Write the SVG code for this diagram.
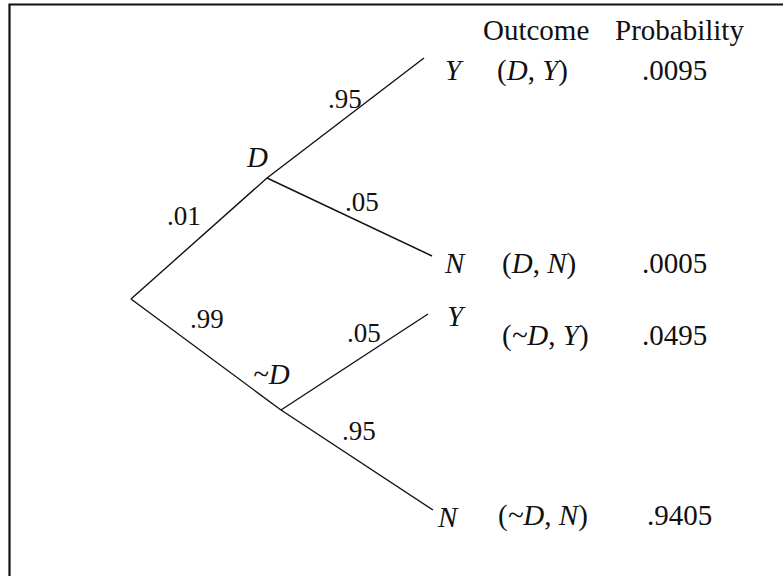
<svg xmlns="http://www.w3.org/2000/svg" width="783" height="576" viewBox="0 0 783 576">
<style>
.t{font-family:"Liberation Serif","Times New Roman",serif;font-size:29px;fill:#111}
.i{font-style:italic}
.p{font-family:"Liberation Serif","Times New Roman",serif;font-size:27px;fill:#111}
.e{stroke:#111;stroke-width:1.4;fill:none}
</style>
<rect width="783" height="576" fill="#fff"/>
<path d="M9.5,576 V4.5 H783" fill="none" stroke="#111" stroke-width="2.2"/>
<g id="connectors">
<line class="e" x1="131" y1="299" x2="267" y2="178"/>
<line class="e" x1="131" y1="299" x2="281" y2="410"/>
<line class="e" x1="267" y1="178" x2="424" y2="58"/>
<line class="e" x1="267" y1="178" x2="432" y2="256"/>
<line class="e" x1="281" y1="410" x2="428" y2="314"/>
<line class="e" x1="281" y1="410" x2="433" y2="510"/>
<text class="p" x="328" y="108">.95</text>
<text class="p" x="345" y="211">.05</text>
<text class="p" x="167" y="225">.01</text>
<text class="p" x="190" y="328">.99</text>
<text class="p" x="347" y="342">.05</text>
<text class="p" x="342" y="440">.95</text>
</g>
<g id="header">
<text class="t" x="483" y="40">Outcome</text>
<text class="t" x="615" y="40">Probability</text>
</g>
<g id="node-D"><text class="t i" x="247" y="167">D</text></g>
<g id="node-notD"><text class="t i" x="253" y="384">~D</text></g>
<g id="leaf-DY">
<text class="t i" x="445" y="80">Y</text>
<text class="t" x="497" y="80">(<tspan class="i">D</tspan>, <tspan class="i">Y</tspan>)</text>
<text class="t" x="642" y="80">.0095</text>
</g>
<g id="leaf-DN">
<text class="t i" x="445" y="273">N</text>
<text class="t" x="502" y="273">(<tspan class="i">D</tspan>, <tspan class="i">N</tspan>)</text>
<text class="t" x="642" y="273">.0005</text>
</g>
<g id="leaf-notDY">
<text class="t i" x="447" y="326">Y</text>
<text class="t" x="502" y="345">(<tspan class="i">~D</tspan>, <tspan class="i">Y</tspan>)</text>
<text class="t" x="642" y="345">.0495</text>
</g>
<g id="leaf-notDN">
<text class="t i" x="438" y="527">N</text>
<text class="t" x="498" y="525">(<tspan class="i">~D</tspan>, <tspan class="i">N</tspan>)</text>
<text class="t" x="647" y="525">.9405</text>
</g>
</svg>
